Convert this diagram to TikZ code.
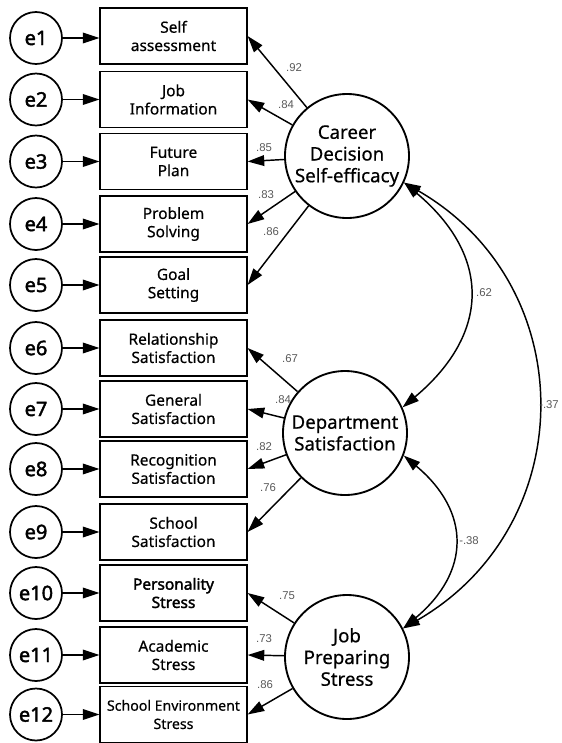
\documentclass[tikz,border=0pt]{standalone}
\usepackage{fontspec}
\setmainfont{Noto Sans}[FakeBold=0.5, BoldFont={Noto Sans}, BoldFeatures={FakeBold=2}]
\newfontfamily\numfont{Liberation Sans}
\usetikzlibrary{arrows.meta}

\tikzset{
  errvar/.style={circle, draw, line width=1.3pt, minimum size=39pt, inner sep=0pt,
    font=\fontsize{15}{17}\selectfont\bfseries},
  indicator/.style={rectangle, draw, line width=1.1pt, minimum width=110pt,
    minimum height=42pt, inner sep=0.5pt, align=center,
    font=\fontsize{11.6}{13.7}\selectfont},
  latent/.style={circle, draw, line width=1.4pt, minimum size=93pt, inner sep=0pt,
    align=center, font=\fontsize{14}{16.3}\selectfont},
  coef/.style={font=\numfont\fontsize{8.5}{9}\selectfont, text=black!65, inner sep=0pt},
  load/.style={line width=1.1pt, ->},
  cov/.style={line width=1.1pt, <->},
}

\begin{document}
\begin{tikzpicture}[x=0.75pt, y=0.75pt, >={Triangle[length=12.5pt,width=8pt]}]

\useasboundingbox (0,0) rectangle (561,-743);

% observed variables
\node[indicator] (b1) at (173.5,-36) {Self\\assessment};
\node[indicator] (b2) at (173.5,-99.5) {Job\\Information};
\node[indicator] (b3) at (173.5,-161.5) {Future\\Plan};
\node[indicator] (b4) at (173.5,-224) {Problem\\Solving};
\node[indicator] (b5) at (173.5,-285) {Goal\\Setting};
\node[indicator] (b6) at (173.5,-348) {Relationship\\Satisfaction};
\node[indicator] (b7) at (173.5,-409) {General\\Satisfaction};
\node[indicator] (b8) at (173.5,-469) {Recognition\\Satisfaction};
\node[indicator] (b9) at (173.5,-532) {School\\Satisfaction};
\node[indicator] (b10) at (173.5,-593) {\bfseries Personality\\\bfseries Stress};
\node[indicator] (b11) at (173.5,-655) {Academic\\Stress};
\node[indicator, font=\fontsize{10.6}{13.7}\selectfont] (b12) at (173.5,-714.5) {School Environment\\Stress};

% error terms
\node[errvar] (e1) at (36,-38) {e1};
\node[errvar] (e2) at (36,-99.5) {e2};
\node[errvar] (e3) at (36,-161.5) {e3};
\node[errvar] (e4) at (36,-224) {e4};
\node[errvar] (e5) at (36,-285) {e5};
\node[errvar] (e6) at (36,-348) {e6};
\node[errvar] (e7) at (36,-409) {e7};
\node[errvar] (e8) at (36,-469) {e8};
\node[errvar] (e9) at (36,-532) {e9};
\node[errvar] (e10) at (36,-593) {e10};
\node[errvar] (e11) at (36,-655) {e11};
\node[errvar] (e12) at (36,-714.5) {e12};

\draw[load] (e1) -- (e1 -| b1.west);
\draw[load] (e2) -- (b2);
\draw[load] (e3) -- (b3);
\draw[load] (e4) -- (b4);
\draw[load] (e5) -- (b5);
\draw[load] (e6) -- (b6);
\draw[load] (e7) -- (b7);
\draw[load] (e8) -- (b8);
\draw[load] (e9) -- (b9);
\draw[load] (e10) -- (b10);
\draw[load] (e11) -- (b11);
\draw[load] (e12) -- (b12);

% latent variables
\node[latent] (cds) at (347,-156) {Career\\Decision\\Self-efficacy};
\node[latent] (dep) at (345,-433) {Department\\Satisfaction};
\node[latent] (jps) at (347,-657) {Job\\Preparing\\Stress};

\draw[load] (cds) -- (b1.east);
\draw[load] (cds) -- (b2.east);
\draw[load] (cds) -- (b3.east);
\draw[load] (cds) -- (b4.east);
\draw[load] (cds) -- (b5.east);
\draw[load] (dep) -- (b6.east);
\draw[load] (dep) -- (b7.east);
\draw[load] (dep) -- (b8.east);
\draw[load] (dep) -- (b9.east);
\draw[load] (jps) -- (b10.east);
\draw[load] (jps) -- (b11.east);
\draw[load] (jps) -- (b12.east);

\node[coef] (l1) at (294,-68) {.92};
\node[coef] (l2) at (286,-105) {.84};
\node[coef] (l3) at (264,-148) {.85};
\node[coef] (l4) at (266,-195) {.83};
\node[coef] (l5) at (271,-232) {.86};
\node[coef] (l6) at (290,-359) {.67};
\node[coef] (l7) at (283,-400) {.84};
\node[coef] (l8) at (264,-447) {.82};
\node[coef] (l9) at (268,-488) {.76};
\node[coef] (l10) at (287,-596) {.75};
\node[coef] (l11) at (264,-639) {.73};
\node[coef] (l12) at (265,-685) {.86};

% correlations
\draw[cov] (cds.-25) to[out=-40, in=40, looseness=1.3] (dep.24);
\draw[cov] (cds.-25) to[out=-30, in=30, looseness=1.18] (jps.27);
\draw[cov] (dep.-21) to[out=-40, in=40, looseness=1.3] (jps.27);

\node[coef] (r1) at (484,-293) {.62};
\node[coef, anchor=west] (r2) at (539,-405) {-.37};
\node[coef, anchor=west] (r3) at (459,-541) {-.38};

\end{tikzpicture}
\end{document}
